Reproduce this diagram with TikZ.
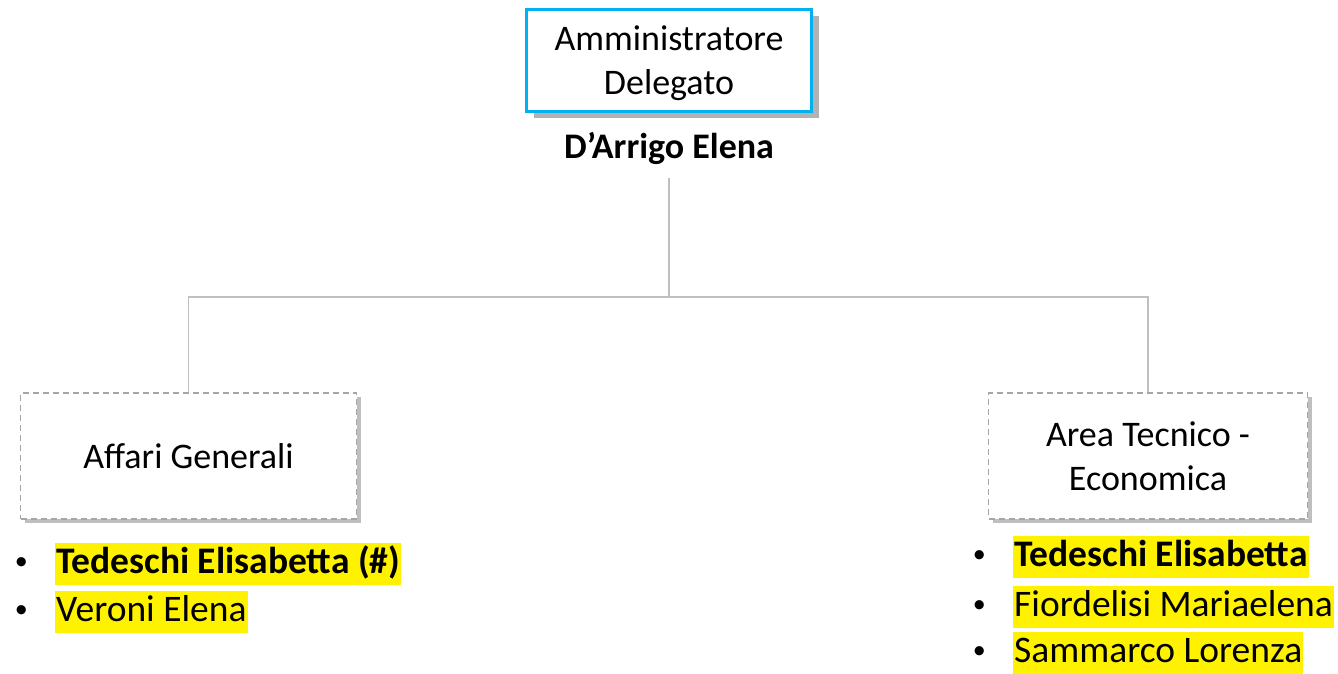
\documentclass[tikz,border=0pt]{standalone}
\usepackage{fontspec}
\setmainfont{Carlito}
\usepackage{tikz}
\usetikzlibrary{positioning}
\usetikzlibrary{shadows}

\definecolor{adcyan}{RGB}{0,176,240}
\definecolor{linkgray}{RGB}{191,191,191}
\definecolor{dashgray}{RGB}{166,166,166}

\begin{document}
\begin{tikzpicture}[x=1pt,y=-1pt,
    every node/.style={font=\fontsize{36}{44}\selectfont},
    topbox/.style={draw=adcyan, line width=3pt, fill=white, align=center,
                   minimum width=285pt, minimum height=102pt,
                   drop shadow={shadow xshift=7pt, shadow yshift=-7pt, fill=black!30, opacity=1}},
    unitbox/.style={draw=dashgray, line width=1.2pt, dash pattern=on 6pt off 4pt,
                    fill=white, align=center, minimum height=126pt,
                    drop shadow={shadow xshift=4pt, shadow yshift=-4pt, fill=black!25, opacity=1}},
    link/.style={draw=linkgray, line width=1.2pt},
    item/.style={fill=yellow, inner xsep=1pt, inner ysep=2pt, anchor=west,
                 font=\fontsize{37.5}{44}\selectfont,
                 text height=28pt, text depth=10pt},
    dot/.style={inner sep=0pt, font=\fontsize{26}{26}\selectfont}]
\useasboundingbox (0,0) rectangle (1338,674);

% board
\node[topbox] (ad) at (669,60.5) {\rule{0pt}{31pt}Amministratore\\Delegato};
\node[font=\fontsize{36}{44}\selectfont\bfseries, inner sep=0pt] (adname) at (669,148) {D’Arrigo Elena};

% units
\node[unitbox, minimum width=336pt] (ag) at (188.5,456) {Affari Generali};
\node[unitbox, minimum width=319pt] (ate) at (1148,456) {Area Tecnico -\\Economica};

% connectors
\coordinate (split) at (669,297);
\coordinate (adfoot) at (669,178);
\draw[link] (adfoot) -- (split);
\draw[link] (ag.north) |- (split) -| (ate.north);

% people
\node[item] (ag1) at (55,564) {\bfseries Tedeschi Elisabetta (\#)\ };
\node[item] (ag2) at (55,612) {Veroni Elena\ };
\node[item] (ate1) at (1013,557) {\bfseries Tedeschi Elisabetta\ };
\node[item] (ate2) at (1013,607) {Fiordelisi Mariaelena};
\node[item] (ate3) at (1013,653) {Sammarco Lorenza\ };
\foreach \p in {ag1,ag2,ate1,ate2,ate3}
    \node[dot, left=27pt of \p] {•};
\end{tikzpicture}
\end{document}
